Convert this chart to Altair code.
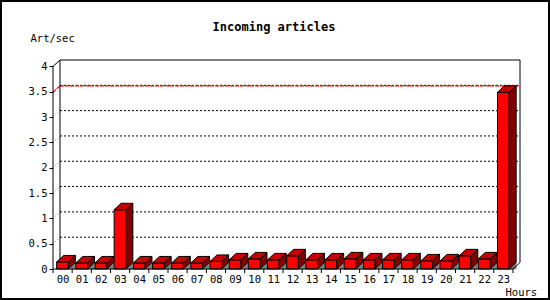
import altair as alt
import pandas as pd

# ---- data ----
hours = ["00", "01", "02", "03", "04", "05", "06", "07", "08", "09", "10", "11",
         "12", "13", "14", "15", "16", "17", "18", "19", "20", "21", "22", "23"]
values = [0.14, 0.12, 0.12, 1.17, 0.12, 0.12, 0.12, 0.12, 0.15, 0.18, 0.20, 0.18,
          0.26, 0.18, 0.18, 0.20, 0.18, 0.18, 0.18, 0.16, 0.16, 0.26, 0.20, 3.49]
y_ticks = [0, 0.5, 1, 1.5, 2, 2.5, 3, 3.5, 4]
title_text = "Incoming articles"

# ---- 3D geometry (in data units) ----
D = 0.365   # depth offset along x (slots)
E = 0.128   # depth offset along y (value units)
A, B = 0.19, 0.80  # front face extent within a slot
N = len(values)
YMAX = 4

W, H = 467, 209

front_rows, top_rows, side_rows, floor_rows = [], [], [], []
for i, (h, v) in enumerate(zip(hours, values)):
    x0, x1 = i + A, i + B
    front_rows.append(dict(hour=h, x=x0, x2=x1, y=0, y2=v))
    for x, lo, hi in [(x0, v, v), (x0 + D, v, v + E), (x1, v, v + E), (x1 + D, v + E, v + E)]:
        top_rows.append(dict(hour=h, x=x, lo=lo, hi=hi))
    for x, lo, hi in [(x1, 0, v), (x1 + D, E, v + E)]:
        side_rows.append(dict(hour=h, x=x, lo=lo, hi=hi))
    for x, lo, hi in [(x1, 0, 0), (x1 + D, 0, E)]:
        floor_rows.append(dict(hour=h, x=x, lo=lo, hi=hi))

front = pd.DataFrame(front_rows)
top = pd.DataFrame(top_rows)
side = pd.DataFrame(side_rows)
floor = pd.DataFrame(floor_rows)

xs = alt.Scale(domain=[0, N + D], nice=False, zero=False)
ys = alt.Scale(domain=[0, YMAX + E], nice=False, zero=False)

FONT = "DejaVu Sans Mono"

XAXIS = alt.Axis(values=[i + (A + B) / 2 for i in range(N)],
                 labelExpr="format(floor(datum.value), '02d')",
                 labelOverlap=False, labelBound=False, labelFlush=False,
                 domain=False, ticks=False, grid=False, labelPadding=5,
                 labelFont=FONT, labelFontSize=10.5, labelColor="black",
                 title="Hours", titleFont=FONT, titleFontSize=10.5, titleFontWeight="normal",
                 titleColor="black",
                 titleAngle=0, titleAlign="left", titleBaseline="middle",
                 titleX=452, titleY=23)
YAXIS = alt.Axis(values=y_ticks, labelExpr="format(datum.value, '~g')",
                 labelOverlap=False, labelBound=False, labelFlush=False,
                 domain=False, ticks=True, tickSize=4,
                 tickColor="black", grid=False, labelPadding=2,
                 labelFont=FONT, labelFontSize=10.5, labelColor="black",
                 title="Art/sec", titleFont=FONT, titleFontSize=10.5, titleFontWeight="normal",
                 titleColor="black",
                 titleAngle=0, titleAlign="left", titleBaseline="middle",
                 titleX=-23, titleY=-22)


def X(field):
    return alt.X(field, scale=xs, axis=XAXIS)


def Y(field, **kw):
    return alt.Y(field, scale=ys, axis=YAXIS, **kw)


# gridlines on back wall
grid_vals = [t for t in y_ticks if 0 < t < YMAX]
grid = pd.DataFrame(dict(x=[D] * len(grid_vals), x2=[N + D] * len(grid_vals),
                         y=[g + E for g in grid_vals]))
grid_layer = alt.Chart(grid).mark_rule(color="black", strokeWidth=1, strokeDash=[2, 2]).encode(
    x=X("x:Q"), x2="x2:Q", y=Y("y:Q"))

# diagonal tick connectors
diag = pd.DataFrame(dict(x=[0] * len(grid_vals), x2=[D] * len(grid_vals),
                         y=grid_vals, y2=[g + E for g in grid_vals]))
diag_layer = alt.Chart(diag).mark_rule(color="#888888", strokeWidth=1, strokeDash=[1, 2]).encode(
    x=X("x:Q"), x2="x2:Q", y=Y("y:Q"), y2="y2:Q")

# max line (red)
mx = max(values)
maxl = pd.DataFrame(dict(x=[0, D], x2=[D, N + D], y=[mx, mx + E], y2=[mx + E, mx + E]))
max_layer = alt.Chart(maxl).mark_rule(color="#FF0000", strokeWidth=1.2, strokeDash=[4, 1]).encode(
    x=X("x:Q"), x2="x2:Q", y=Y("y:Q"), y2="y2:Q")

# frame lines: back left, top, right | front axis, top diag, bottom axis, bottom-right diag
frame = pd.DataFrame(dict(
    x=[D, D, N + D, 0, 0, 0, N],
    x2=[D, N + D, N + D, 0, D, N, N + D],
    y=[E, YMAX + E, E, 0, YMAX, 0, 0],
    y2=[YMAX + E, YMAX + E, YMAX + E, YMAX, YMAX + E, 0, E],
))
frame_back = alt.Chart(frame.iloc[:3]).mark_rule(color="black", strokeWidth=1).encode(
    x=X("x:Q"), x2="x2:Q", y=Y("y:Q"), y2="y2:Q")
frame_front = alt.Chart(frame.iloc[3:]).mark_rule(color="black", strokeWidth=1).encode(
    x=X("x:Q"), x2="x2:Q", y=Y("y:Q"), y2="y2:Q")

# x ticks at slot boundaries
xt = pd.DataFrame(dict(x=list(range(N + 1)), y=[0] * (N + 1), y2=[-0.08] * (N + 1)))
xtick_layer = alt.Chart(xt).mark_rule(color="black", strokeWidth=1).encode(
    x=X("x:Q"), y=Y("y:Q"), y2="y2:Q")

floor_layer = alt.Chart(floor).mark_area(color="#808080", stroke="#808080", strokeWidth=0.5,
                                         interpolate="linear", orient="vertical").encode(
    x=X("x:Q"), y=Y("lo:Q", stack=None), y2="hi:Q", detail="hour:N")

side_layer = alt.Chart(side).mark_area(color="#800000", stroke="black", strokeWidth=1,
                                       interpolate="linear", orient="vertical").encode(
    x=X("x:Q"), y=Y("lo:Q", stack=None), y2="hi:Q", detail="hour:N")

top_layer = alt.Chart(top).mark_area(color="#C80000", stroke="black", strokeWidth=1,
                                     interpolate="linear", orient="vertical").encode(
    x=X("x:Q"), y=Y("lo:Q", stack=None), y2="hi:Q", detail="hour:N")

front_layer = alt.Chart(front).mark_rect(color="#FF0000", stroke="black", strokeWidth=1).encode(
    x=X("x:Q"), x2="x2:Q", y=Y("y:Q"), y2="y2:Q")

# chart title as text
title_layer = alt.Chart(pd.DataFrame({"t": [title_text]})).mark_text(
    font=FONT, fontSize=12, fontWeight="bold", color="black", align="center", baseline="middle"
).encode(text="t:N", x=alt.value(221), y=alt.value(-33))

# outer border
border = alt.Chart(pd.DataFrame({"k": [0]})).mark_rect(fill=None, stroke="black", strokeWidth=2).encode(
    x=alt.value(-52), x2=alt.value(W + 29), y=alt.value(-59), y2=alt.value(H + 30))

chart = alt.layer(
    grid_layer, diag_layer, max_layer, frame_back,
    floor_layer, front_layer, side_layer, top_layer,
    frame_front, xtick_layer, title_layer, border,
).properties(
    width=W, height=H,
    autosize=alt.AutoSizeParams(type="none"),
    padding={"left": 53, "top": 60, "right": 30, "bottom": 31},
    background="white",
).configure_view(stroke=None).configure_axis(labelOverlap=False)

chart.save("out.html", embed_options={"renderer": "svg", "actions": False})
